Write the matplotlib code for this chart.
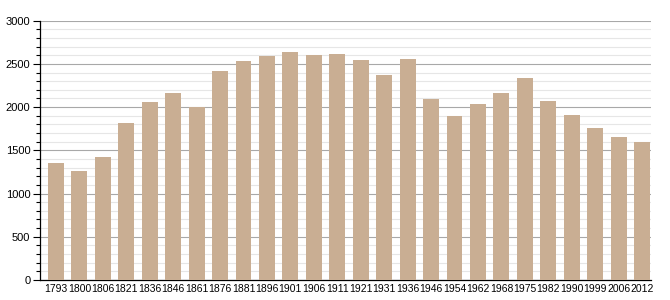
import numpy as np
import matplotlib.pyplot as plt
from matplotlib.ticker import MultipleLocator

years = ['1793', '1800', '1806', '1821', '1836', '1846', '1861', '1876', '1881',
         '1896', '1901', '1906', '1911', '1921', '1931', '1936', '1946', '1954',
         '1962', '1968', '1975', '1982', '1990', '1999', '2006', '2012']
population = [1356, 1265, 1423, 1815, 2058, 2158, 1996, 2415, 2531,
              2588, 2635, 2600, 2612, 2542, 2369, 2554, 2092, 1896,
              2035, 2162, 2335, 2069, 1908, 1758, 1654, 1596]

plt.rcParams['font.family'] = ['Liberation Sans', 'DejaVu Sans']

fig = plt.figure(figsize=(6.7, 3), dpi=100)
ax = fig.add_axes([0.0597, 0.0667, 0.9119, 0.8643])

x = np.arange(len(years))
ax.bar(x, population, width=0.68, color='#c9ae93', zorder=3)

ax.set_xlim(-0.68, 25.38)
ax.set_ylim(0, 3000)
ax.yaxis.set_major_locator(MultipleLocator(500))
ax.yaxis.set_minor_locator(MultipleLocator(100))
ax.grid(True, which='major', axis='y', color='#a8a8a8', linewidth=0.8, zorder=0)
ax.grid(True, which='minor', axis='y', color='#e6e6e6', linewidth=0.8, zorder=0)

ax.set_xticks(x)
ax.set_xticklabels(years, fontsize=7.5)
ax.tick_params(axis='x', length=0, pad=3)
ax.tick_params(axis='y', which='major', length=5, width=0.8, labelsize=8, pad=2)
ax.tick_params(axis='y', which='minor', length=3, width=0.8)

for s in ['top', 'right']:
    ax.spines[s].set_visible(False)
ax.spines['left'].set_linewidth(0.9)
ax.spines['bottom'].set_linewidth(0.9)

plt.savefig('out.png', dpi=100)
